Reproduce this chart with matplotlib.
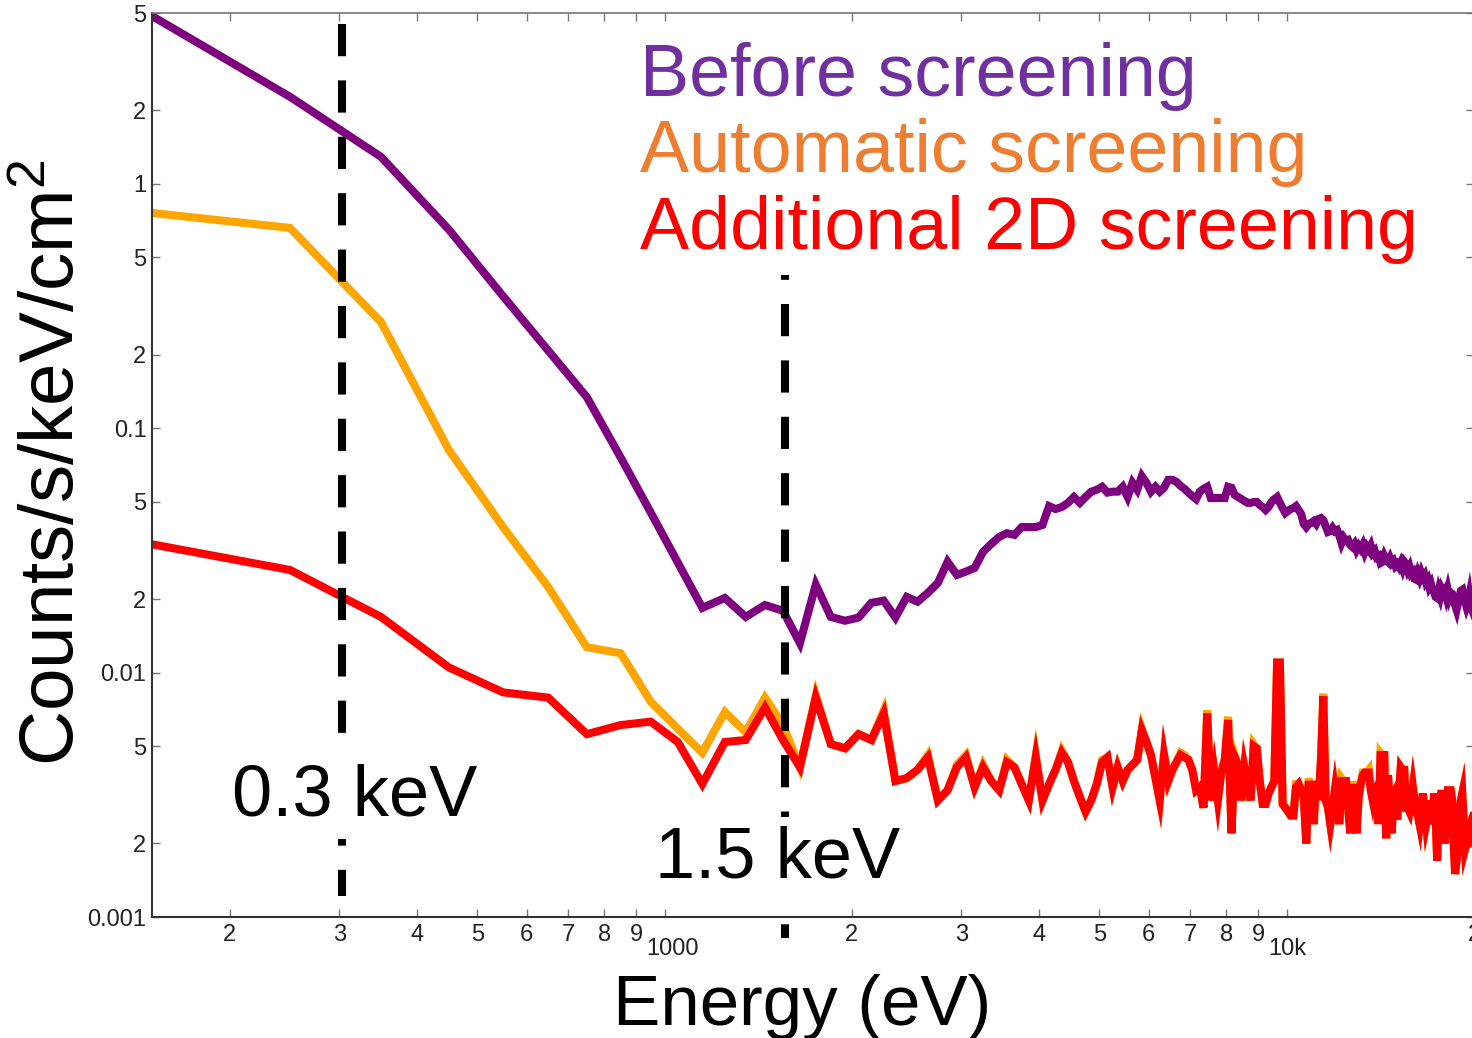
import numpy as np
import matplotlib
matplotlib.use("Agg")
import matplotlib.pyplot as plt
from matplotlib.ticker import FixedLocator, FixedFormatter
import matplotlib.transforms as mtransforms

plt.rcParams['font.family'] = ['Liberation Sans', 'DejaVu Sans']
plt.rcParams['mathtext.fontset'] = 'custom'
plt.rcParams['mathtext.rm'] = 'Liberation Sans'
plt.rcParams['mathtext.it'] = 'Liberation Sans'

# Energy bins (eV): 100 eV wide bins, centres from 150 to 19950
bin_width = 100
energy = np.arange(150, 20000, bin_width)

# Before screening (purple)
before = [
    4.86, 2.27, 1.29, 0.65, 0.347, 0.208, 0.134, 0.0759, 0.0452, 0.0282,
    0.0184, 0.0202, 0.0169, 0.0189, 0.0179, 0.0132, 0.0229, 0.0169, 0.0163, 0.0168,
    0.0193, 0.0197, 0.0168, 0.0204, 0.0195, 0.0212, 0.0233, 0.0284, 0.0251, 0.0259,
    0.0268, 0.0312, 0.0336, 0.0359, 0.0372, 0.0366, 0.0394, 0.0394, 0.0394, 0.0402,
    0.0480, 0.0467, 0.0476, 0.0495, 0.0523, 0.0495, 0.0523, 0.0550, 0.0560, 0.0576,
    0.0545, 0.0550, 0.0550, 0.0576, 0.0523, 0.0598, 0.0560, 0.0636, 0.0598, 0.0550,
    0.0576, 0.0550, 0.0571, 0.0615, 0.0615, 0.0603, 0.0581, 0.0565, 0.0545, 0.0528,
    0.0513, 0.0550, 0.0565, 0.0576, 0.0518, 0.0518, 0.0518, 0.0518, 0.0518, 0.0576,
    0.0571, 0.0533, 0.0523, 0.0513, 0.0504, 0.0495, 0.0495, 0.0499, 0.0499, 0.0485,
    0.0476, 0.0463, 0.0476, 0.0499, 0.0513, 0.0523, 0.0495, 0.0471, 0.0450, 0.0459,
    0.0467, 0.0471, 0.0480, 0.0463, 0.0446, 0.0406, 0.0394, 0.0406, 0.0410, 0.0417,
    0.0406, 0.0425, 0.0429, 0.0421, 0.0398, 0.0376, 0.0379, 0.0391, 0.0379, 0.0383,
    0.0363, 0.0339, 0.0356, 0.0346, 0.0349, 0.0333, 0.0327, 0.0336, 0.0318, 0.0330,
    0.0321, 0.0333, 0.0312, 0.0327, 0.0318, 0.0330, 0.0309, 0.0315, 0.0297, 0.0300,
    0.0281, 0.0284, 0.0300, 0.0289, 0.0284, 0.0294, 0.0281, 0.0286, 0.0273, 0.0278,
    0.0271, 0.0281, 0.0268, 0.0284, 0.0278, 0.0263, 0.0271, 0.0254, 0.0258, 0.0242,
    0.0240, 0.0254, 0.0244, 0.0256, 0.0246, 0.0251, 0.0235, 0.0240, 0.0225, 0.0231,
    0.0218, 0.0214, 0.0204, 0.0202, 0.0216, 0.0206, 0.0220, 0.0214, 0.0218, 0.0206,
    0.0218, 0.0204, 0.0212, 0.0210, 0.0199, 0.0189, 0.0181, 0.0193, 0.0204, 0.0216,
    0.0218, 0.0202, 0.0195, 0.0186, 0.0193, 0.0206, 0.0187, 0.0181, 0.0187,
]

# Automatic screening (orange)
automatic = [
    0.760, 0.660, 0.272, 0.0815, 0.0394, 0.0224, 0.0127, 0.0120, 0.0076, 0.0059,
    0.0047, 0.0069, 0.0057, 0.0079, 0.0061, 0.0041, 0.0081, 0.0051, 0.0049, 0.0056,
    0.0053, 0.0070, 0.0036, 0.0037, 0.0040, 0.0046, 0.0030, 0.0033, 0.0042, 0.0046,
    0.0034, 0.0042, 0.0036, 0.0033, 0.0044, 0.0041, 0.0035, 0.0030, 0.0046, 0.0030,
    0.0035, 0.0040, 0.0048, 0.0043, 0.0036, 0.0031, 0.0027, 0.0030, 0.0035, 0.0044,
    0.0045, 0.0034, 0.0041, 0.0036, 0.0040, 0.0042, 0.0044, 0.0059, 0.0052, 0.0046,
    0.0037, 0.0030, 0.0047, 0.0036, 0.0040, 0.0043, 0.0047, 0.0046, 0.0044, 0.0040,
    0.0033, 0.0034, 0.0028, 0.0070, 0.0030, 0.0039, 0.0030, 0.0040, 0.0044, 0.0066,
    0.0022, 0.0046, 0.0042, 0.0030, 0.0041, 0.0035, 0.0030, 0.0051, 0.0049, 0.0036,
    0.0029, 0.0029, 0.0032, 0.0034, 0.0036, 0.0110, 0.0110, 0.0029, 0.0028, 0.0027,
    0.0026, 0.0026, 0.0035, 0.0035, 0.0033, 0.0031, 0.0020, 0.0037, 0.0031, 0.0024,
    0.0036, 0.0031, 0.0044, 0.0082, 0.0030, 0.0028, 0.0024, 0.0028, 0.0033, 0.0028,
    0.0024, 0.0037, 0.0036, 0.0036, 0.0028, 0.0022, 0.0036, 0.0028, 0.0022, 0.0031,
    0.0035, 0.0039, 0.0039, 0.0039, 0.0040, 0.0033, 0.0030, 0.0034, 0.0034, 0.0024,
    0.0047, 0.0046, 0.0046, 0.0021, 0.0038, 0.0029, 0.0022, 0.0033, 0.0033, 0.0025,
    0.0032, 0.0041, 0.0040, 0.0040, 0.0028, 0.0028, 0.0027, 0.0030, 0.0034, 0.0030,
    0.0027, 0.0026, 0.0024, 0.0028, 0.0032, 0.0028, 0.0024, 0.0026, 0.0030, 0.0026,
    0.0024, 0.0032, 0.0026, 0.0017, 0.0025, 0.0030, 0.0033, 0.0026, 0.0020, 0.0026,
    0.0033, 0.0033, 0.0033, 0.0030, 0.0020, 0.0015, 0.0017, 0.0020, 0.0026, 0.0030,
    0.0032, 0.0025, 0.0019, 0.0020, 0.0020, 0.0022, 0.0023, 0.0025, 0.0026,
]

# Additional 2D screening (red)
additional = [
    0.0335, 0.0263, 0.0169, 0.0105, 0.0083, 0.0079, 0.0056, 0.0061, 0.0063, 0.0052,
    0.0035, 0.0052, 0.0053, 0.0072, 0.0053, 0.0041, 0.0079, 0.0051, 0.0049, 0.0056,
    0.0053, 0.0068, 0.0036, 0.0037, 0.0040, 0.0045, 0.0030, 0.0033, 0.0041, 0.0045,
    0.0034, 0.0041, 0.0036, 0.0033, 0.0043, 0.0041, 0.0035, 0.0030, 0.0045, 0.0030,
    0.0035, 0.0040, 0.0047, 0.0043, 0.0036, 0.0031, 0.0027, 0.0030, 0.0035, 0.0043,
    0.0045, 0.0034, 0.0041, 0.0036, 0.0040, 0.0042, 0.0044, 0.0058, 0.0052, 0.0046,
    0.0037, 0.0030, 0.0046, 0.0036, 0.0040, 0.0043, 0.0046, 0.0045, 0.0044, 0.0040,
    0.0033, 0.0034, 0.0028, 0.0068, 0.0030, 0.0039, 0.0030, 0.0039, 0.0044, 0.0064,
    0.0022, 0.0045, 0.0042, 0.0030, 0.0041, 0.0035, 0.0030, 0.0050, 0.0049, 0.0036,
    0.0029, 0.0029, 0.0032, 0.0034, 0.0036, 0.0110, 0.0110, 0.0029, 0.0028, 0.0027,
    0.0026, 0.0026, 0.0034, 0.0035, 0.0033, 0.0031, 0.0020, 0.0036, 0.0031, 0.0024,
    0.0036, 0.0030, 0.0044, 0.0080, 0.0030, 0.0028, 0.0024, 0.0028, 0.0033, 0.0028,
    0.0024, 0.0036, 0.0036, 0.0036, 0.0028, 0.0022, 0.0035, 0.0028, 0.0022, 0.0031,
    0.0035, 0.0038, 0.0039, 0.0039, 0.0039, 0.0033, 0.0030, 0.0033, 0.0034, 0.0024,
    0.0046, 0.0046, 0.0046, 0.0021, 0.0038, 0.0029, 0.0022, 0.0032, 0.0033, 0.0025,
    0.0032, 0.0041, 0.0040, 0.0040, 0.0028, 0.0028, 0.0027, 0.0030, 0.0034, 0.0030,
    0.0027, 0.0026, 0.0024, 0.0028, 0.0032, 0.0028, 0.0024, 0.0026, 0.0030, 0.0026,
    0.0024, 0.0032, 0.0026, 0.0017, 0.0025, 0.0030, 0.0033, 0.0026, 0.0020, 0.0026,
    0.0033, 0.0033, 0.0033, 0.0030, 0.0020, 0.0015, 0.0017, 0.0020, 0.0026, 0.0030,
    0.0032, 0.0025, 0.0019, 0.0020, 0.0020, 0.0022, 0.0023, 0.0025, 0.0026,
]

# Energy cuts marked on the plot (eV)
cut_low = 303
cut_high = 1560

# Tick values and labels
x_major = [1000, 10000]
x_major_labels = ['1000', '10k']
x_minor = [200, 300, 400, 500, 600, 700, 800, 900,
           2000, 3000, 4000, 5000, 6000, 7000, 8000, 9000, 20000]
x_minor_labels = ['2', '3', '4', '5', '6', '7', '8', '9',
                  '2', '3', '4', '5', '6', '7', '8', '9', '2']
y_ticks = [0.001, 0.002, 0.005, 0.01, 0.02, 0.05, 0.1, 0.2, 0.5, 1, 2, 5]
y_labels = ['0.001', '2', '5', '0.01', '2', '5', '0.1', '2', '5', '1', '2', '5']

W, H = 1472, 1038
fig = plt.figure(figsize=(W / 100, H / 100), dpi=100)
ax = fig.add_axes([152 / W, 1 - 917 / H, (1474 - 152) / W, (917 - 13) / H])

lw = 5.8
ax.plot(energy, before, color='#7f007f', lw=lw, solid_joinstyle='miter', zorder=2)
ax.plot(energy, automatic, color='#ffa500', lw=lw, solid_joinstyle='miter', zorder=2)
ax.plot(energy, additional, color='#ff0000', lw=lw, solid_joinstyle='miter', zorder=2)

ax.set_xscale('log')
ax.set_yscale('log')
ax.set_xlim(150, 20000)
ax.set_ylim(0.001, 5)

# dashed energy cuts (x in data, y in axes fraction)
trans = mtransforms.blended_transform_factory(ax.transData, ax.transAxes)
y_top = (917 - 24) / 904
ax.plot([cut_low, cut_low], [y_top, (917 - 896) / 904], transform=trans,
        color='black', lw=lw, linestyle=(0, (4, 3)), dash_capstyle='butt',
        clip_on=False, zorder=4)
ax.plot([cut_high, cut_high], [(917 - 275) / 904, (917 - 938) / 904], transform=trans,
        color='black', lw=lw, linestyle=(3.4, (4, 3)), dash_capstyle='butt',
        clip_on=False, zorder=4)

ax.xaxis.set_major_locator(FixedLocator(x_major))
ax.xaxis.set_major_formatter(FixedFormatter(x_major_labels))
ax.xaxis.set_minor_locator(FixedLocator(x_minor))
ax.xaxis.set_minor_formatter(FixedFormatter(x_minor_labels))
ax.yaxis.set_major_locator(FixedLocator(y_ticks))
ax.yaxis.set_major_formatter(FixedFormatter(y_labels))
ax.yaxis.set_minor_locator(FixedLocator([]))

tick_font = ['Liberation Sans Narrow', 'Liberation Sans']
ax.tick_params(which='both', direction='in', top=True, right=True,
               length=6, width=1, color='#777777', labelcolor='#222222', labelsize=17)
ax.tick_params(axis='x', which='minor', pad=5)
ax.tick_params(axis='x', which='major', pad=15)
ax.tick_params(axis='y', which='both', pad=4)
for lab in ax.get_xticklabels(which='both') + ax.get_yticklabels():
    lab.set_fontfamily(tick_font)
for lab in ax.get_xticklabels(which='major'):
    lab.set_horizontalalignment('left')
    lab.set_x(lab.get_position()[0])
# the decade labels sit slightly to the right of their tick
offset = mtransforms.ScaledTranslation(-18 / 100, 0, fig.dpi_scale_trans)
for lab in ax.get_xticklabels(which='major'):
    lab.set_transform(lab.get_transform() + offset)

for side in ['top', 'right']:
    ax.spines[side].set_color('#777777')
    ax.spines[side].set_linewidth(1.2)
for side in ['bottom', 'left']:
    ax.spines[side].set_color('#333333')
    ax.spines[side].set_linewidth(1.5)

# axis titles
fig.text(54 / W, 1 - 462 / H, r'Counts/s/keV/cm$^2$', rotation=90,
         ha='center', va='center', fontsize=55)
fig.text(802 / W, 1 - 1025 / H, 'Energy (eV)', ha='center', va='baseline', fontsize=51)

# legend as coloured text
fig.text(640 / W, 1 - 96 / H, 'Before screening', color='#7030a0',
         ha='left', va='baseline', fontsize=53)
fig.text(640 / W, 1 - 172 / H, 'Automatic screening', color='#ed7d31',
         ha='left', va='baseline', fontsize=53)
fig.text(640 / W, 1 - 249 / H, 'Additional 2D screening', color='#ff0000',
         ha='left', va='baseline', fontsize=53)

# energy cut labels
box = dict(facecolor='white', edgecolor='none', pad=6)
fig.text(232 / W, 1 - 815 / H, '0.3 keV', ha='left', va='baseline',
         fontsize=52, bbox=box, zorder=5)
fig.text(655 / W, 1 - 878 / H, '1.5 keV', ha='left', va='baseline',
         fontsize=52, bbox=box, zorder=5)

fig.savefig('out.png', dpi=100)
